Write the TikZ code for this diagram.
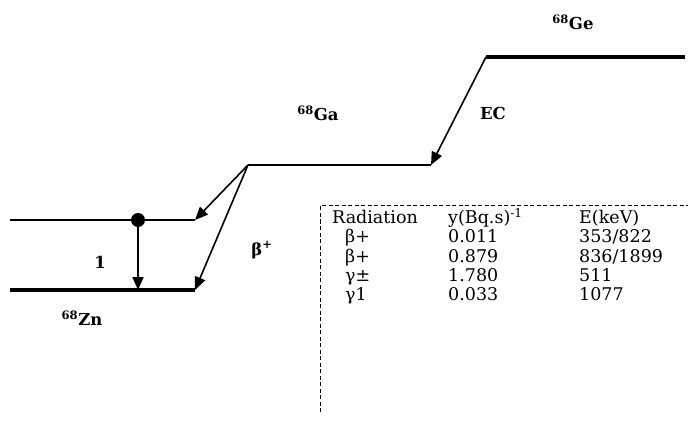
\documentclass[tikz,border=0pt]{standalone}
\usepackage{fontspec}
\setmainfont{DejaVu Serif}
\usetikzlibrary{arrows.meta,positioning}

\begin{document}
\begin{tikzpicture}[x=1pt,y=-1pt,>={Triangle[length=13pt,width=11pt]},
 level/.style={line width=1.6pt},
 ground/.style={line width=3.4pt},
 decay/.style={->,line width=1.6pt},
 lbl/.style={font=\bfseries\fontsize{16.5}{19}\selectfont,inner sep=0pt},
 tab/.style={font=\fontsize{17.5}{20}\selectfont,anchor=base west,inner sep=0pt}]
\useasboundingbox (0,0) rectangle (688,422);
% energy levels
\coordinate (ge-l) at (486,57); \coordinate (ge-r) at (685,57);
\coordinate (ga-l) at (248,165); \coordinate (ga-r) at (431,165);
\coordinate (zx-l) at (10,220); \coordinate (zx-r) at (195,220);
\coordinate (zn-l) at (10,290); \coordinate (zn-r) at (195,290);
\draw[ground] (ge-l) -- (ge-r);
\draw[level] (ga-l) -- (ga-r);
\draw[level] (zx-l) -- (zx-r);
\draw[ground] (zn-l) -- (zn-r);
% decays
\draw[decay] (ge-l) -- (ga-r);
\draw[decay] (ga-l) -- (zx-r);
\draw[decay] (ga-l) -- (zn-r);
\node[circle,fill,minimum size=14pt,inner sep=0pt] (dot) at (138,220) {};
\coordinate (dot-end) at (138,290);
\draw[decay] (dot.center) -- (dot-end);
% labels
\node[lbl] (ge) at (573,22) {\textsuperscript{68}Ge};
\node[lbl] (ga) at (318,113) {\textsuperscript{68}Ga};
\node[lbl] (ec) at (493,113) {EC};
\node[lbl] (bp) at (262,250) {β\textsuperscript{+}};
\node[lbl] (one) at (100,262) {1};
\node[lbl] (zn) at (82,318) {\textsuperscript{68}Zn};
% radiation table
\draw[dash pattern=on 4pt off 2.5pt,line width=1pt] (320,412) -- (320,206) -- (688,206);
\node[tab] (h1) at (332,224) {Radiation};
\node[tab] (h2) at (448,224) {y(Bq.s)\textsuperscript{-1}};
\node[tab] (h3) at (579,224) {E(keV)};
\foreach \rad/\yld/\en [count=\i] in {{β+}/0.011/{353/822},{β+}/0.879/{836/1899},{γ±}/1.780/511,{γ1}/0.033/1077}{
 \node[tab] (rad\i) at (345,224+19*\i) {\rad};
 \node[tab] (yld\i) at (448,224+19*\i) {\yld};
 \node[tab] (en\i) at (579,224+19*\i) {\en};
}
\end{tikzpicture}
\end{document}
